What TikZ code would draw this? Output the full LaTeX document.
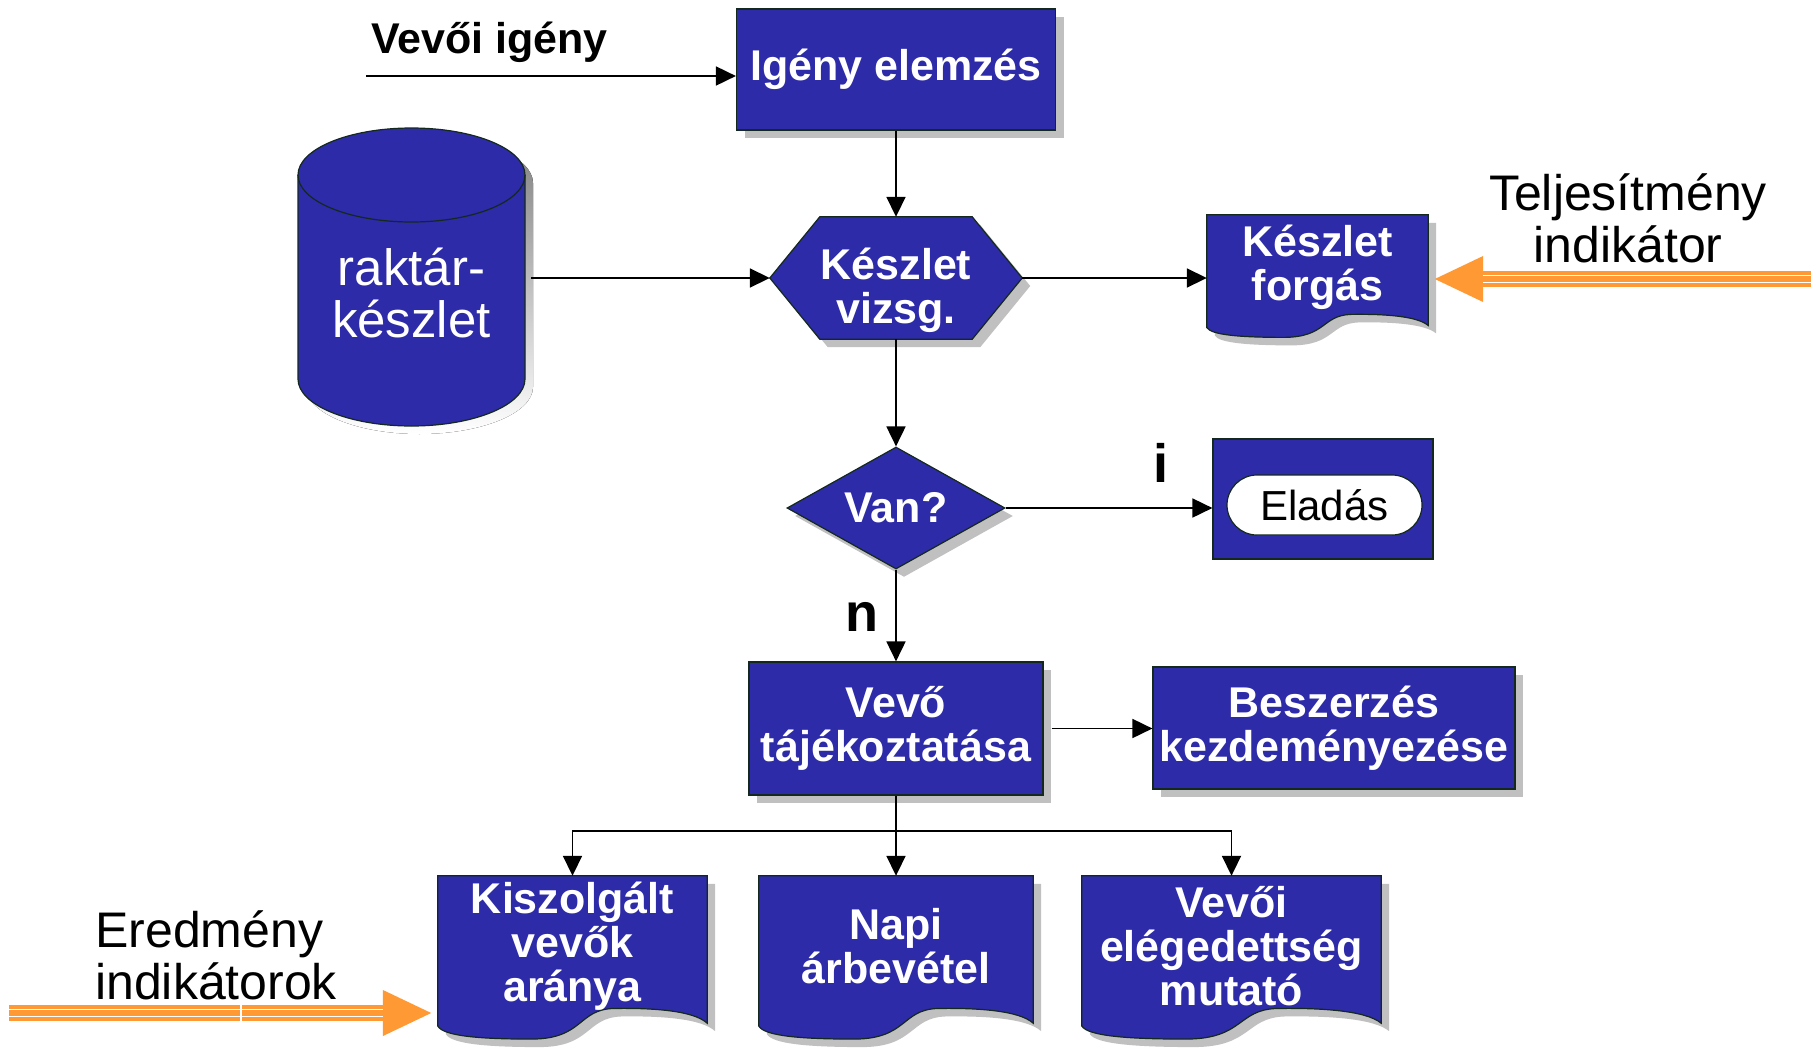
\documentclass[tikz,border=0pt]{standalone}
\usepackage{fontspec}
\setmainfont{Liberation Sans}
\usetikzlibrary{arrows.meta,shapes.geometric,shapes.misc,shadows,calc}
\pgfdeclarelayer{background}
\pgfsetlayers{background,main}

\definecolor{boxblue}{RGB}{46,43,168}
\definecolor{shade}{RGB}{192,192,192}
\definecolor{edgecol}{RGB}{20,40,30}
\definecolor{indorange}{RGB}{255,153,51}

% point inside the box of a node: fraction of width, fraction of height from the top
\newcommand\docpt[2]{({\x1+(#1)*(\x2-\x1)+\shoff},{\y1-(#2)*(\y1-\y2)-\shoff})}
% hexagon around a node
\newcommand\hexshape[3]{\def\shoff{#3}%
  \path[#1] let \p1=(#2.north west),\p2=(#2.south east) in
    \docpt{0}{0.5} -- \docpt{0.198}{0} -- \docpt{0.802}{0} -- \docpt{1}{0.5}
    -- \docpt{0.802}{1} -- \docpt{0.198}{1} -- cycle;}
% document symbol (wavy bottom) around a node
\newcommand\docshape[3]{\def\shoff{#3}%
  \path[#1] let \p1=(#2.north west),\p2=(#2.south east) in
    \docpt{0}{0} -- \docpt{1}{0} -- \docpt{1}{1.05}
    .. controls \docpt{0.95}{0.96} and \docpt{0.8}{0.94} .. \docpt{0.65}{0.945}
    .. controls \docpt{0.52}{0.955} and \docpt{0.54}{1.16} .. \docpt{0.35}{1.163}
    .. controls \docpt{0.15}{1.163} and \docpt{0.02}{1.14} .. \docpt{0}{1.07}
    -- cycle;}

\begin{document}
\begin{tikzpicture}[x=1pt,y=-1pt,
  boxtxt/.style={text=white,font=\fontsize{43}{44}\selectfont\bfseries,
    align=center,inner sep=0pt},
  bluebox/.style={boxtxt,rectangle,fill=boxblue,draw=edgecol,line width=1.2pt},
  shadowed/.style={copy shadow={shadow xshift=8pt,shadow yshift=-8pt,
    fill=shade,draw=none}},
  blueshape/.style={fill=boxblue,draw=edgecol,line width=1.2pt},
  shadowshape/.style={fill=shade},
  flow/.style={-{Triangle[length=20pt,width=19pt]},line width=1.8pt},
  plainlbl/.style={font=\fontsize{50}{52}\selectfont,align=center,inner sep=0pt},
  yesno/.style={font=\fontsize{54}{54}\selectfont\bfseries,inner sep=0pt},
  orangearrow/.style={draw=indorange,line width=16pt,
    -{Triangle[length=50pt,width=42pt]}},
  stripe/.style={draw=white,line width=1.5pt}]

\begin{pgfonlayer}{background}
  \fill[white] (0,0) rectangle (1820,1047);
\end{pgfonlayer}
\useasboundingbox (0,0) rectangle (1820,1047);

% ---------- nodes ----------
\node[bluebox,shadowed,minimum width=319pt,minimum height=121pt] (ie)
  at (896,69.5) {Igény elemzés};
\node[font=\fontsize{43}{44}\selectfont\bfseries,anchor=west,inner sep=0pt] (vi)
  at (371,42) {Vevői igény};

\node[text=white,font=\fontsize{51}{52}\selectfont,align=center,inner sep=0pt,
  minimum width=227pt,minimum height=266pt] (cyl) at (411.5,293) {raktár-\\készlet};

\node[minimum width=252pt,minimum height=122pt,inner sep=0pt,
  label={[boxtxt,yshift=-12pt]center:Készlet\\vizsg.}] (kv) at (896,278) {};

\node[boxtxt,minimum width=221pt,minimum height=105pt] (kf)
  at (1317.5,267.5) {Készlet\\forgás};
\node[plainlbl] (ti) at (1628,218) {Teljesítmény\\indikátor};

\node[boxtxt,diamond,aspect=1.79,fill=boxblue,draw=edgecol,line width=1.2pt,
  shadowed,minimum width=218pt,minimum height=122pt] (van) at (896,508) {Van?};

\node[bluebox,minimum width=220pt,minimum height=120pt] (el) at (1323,499) {};
\node[rounded rectangle,fill=white,draw=edgecol,line width=1.2pt,
  minimum width=195pt,minimum height=60pt,inner sep=0pt,
  font=\fontsize{42}{42}\selectfont] (elp) at (1324.5,505) {Eladás};

\node[yesno] (ilbl) at (1161,463) {i};
\node[yesno] (nlbl) at (862,617) {n};

\node[bluebox,shadowed,minimum width=294pt,minimum height=133pt] (vt)
  at (896,728.5) {Vevő\\tájékoztatása};
\node[bluebox,shadowed,minimum width=362pt,minimum height=122pt] (bk)
  at (1334,728) {Beszerzés\\kezdeményezése};

\node[boxtxt,minimum width=269pt,minimum height=140pt] (ks)
  at (572.5,946) {Kiszolgált\\vevők\\aránya};
\node[boxtxt,minimum width=274pt,minimum height=140pt] (na)
  at (896,946) {Napi\\árbevétel};
\node[boxtxt,minimum width=299pt,minimum height=140pt] (ve)
  at (1231.5,946) {Vevői\\elégedettség\\mutató};

\node[plainlbl,align=left,anchor=west] (ei) at (95,955) {Eredmény\\indikátorok};

% ---------- drawn shapes behind the texts ----------
\begin{pgfonlayer}{background}
  % storage cylinder
  \fill[shade] (306,183) -- (306,387)
    arc[start angle=180,end angle=360,x radius=113.5pt,y radius=47pt]
    -- (533,183)
    arc[start angle=0,end angle=180,x radius=113.5pt,y radius=47pt] -- cycle;
  \path[blueshape] (298,175) -- (298,379)
    arc[start angle=180,end angle=360,x radius=113.5pt,y radius=47pt]
    -- (525,175)
    arc[start angle=0,end angle=180,x radius=113.5pt,y radius=47pt] -- cycle;
  \draw[edgecol,line width=1.2pt] (298,175)
    arc[start angle=180,end angle=360,x radius=113.5pt,y radius=47pt];
  % preparation hexagon
  \hexshape{shadowshape}{kv}{8pt}
  \hexshape{blueshape}{kv}{0pt}
  % document symbols
  \foreach \d in {kf,ks,na,ve}{
    \docshape{shadowshape}{\d}{8pt}
    \docshape{blueshape}{\d}{0pt}
  }
\end{pgfonlayer}

% ---------- connectors ----------
\coordinate (vin) at (366,76);
\draw[flow] (vin) -- (vin -| ie.west);
\draw[flow] (ie) -- (kv);
\draw[flow] ($(cyl.east |- kv.west)+(6,0)$) -- (kv.west);
\draw[flow] (kv.east) -- (kf.west |- kv.east);
\draw[flow] (kv) -- (van);
\draw[flow] (van.east) -- (van.east -| el.west);
\draw[flow] (van) -- (vt);
\draw[flow] ($(vt.east)+(8,0)$) -- (bk.west |- vt.east);
\coordinate (split) at ($(vt.south)+(0,35)$);
\draw[line width=1.8pt] (vt.south) -- (split);
\draw[flow] (split) -| (ks.north);
\draw[flow] (split) -- (na.north);
\draw[flow] (split) -| (ve.north);

% ---------- indicator arrows ----------
\coordinate (tin) at (1811,279);
\draw[orangearrow] (tin) -- ($(kf.east |- tin)+(5,0)$);
\draw[stripe] ($(tin)+(0,-3.5)$) -- ($(kf.east |- tin)+(55,-3.5)$);
\draw[stripe] ($(tin)+(0,3.5)$) -- ($(kf.east |- tin)+(55,3.5)$);

\coordinate (ein) at (9,1013);
\draw[orangearrow] (ein) -- ($(ks.west |- ein)+(-5,0)$);
\draw[stripe] ($(ein)+(0,-3.5)$) -- ($(ks.west |- ein)+(-55,-3.5)$);
\draw[stripe] ($(ein)+(0,3.5)$) -- ($(ks.west |- ein)+(-55,3.5)$);
\draw[draw=white,line width=2pt] ($(ein)+(232,-8)$) -- ($(ein)+(232,8)$);
\end{tikzpicture}
\end{document}
